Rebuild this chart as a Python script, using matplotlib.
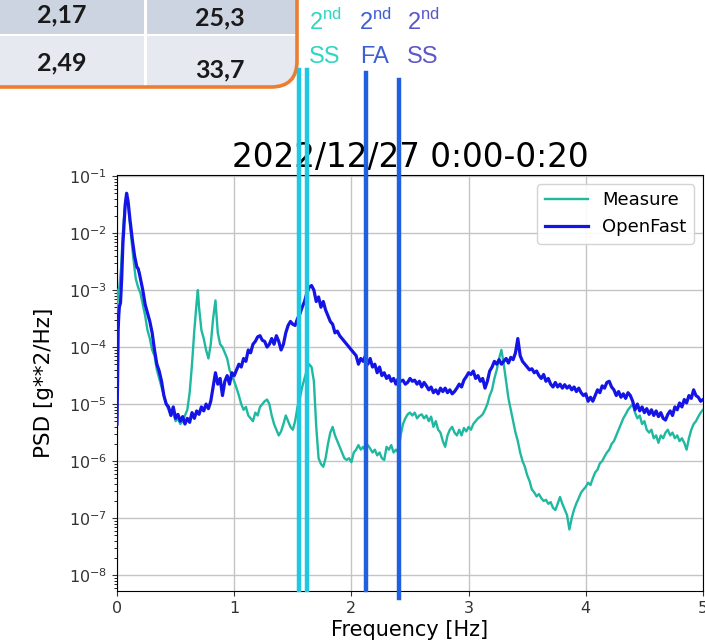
import numpy as np
import matplotlib
matplotlib.use("Agg")
import matplotlib.pyplot as plt
from matplotlib.patches import FancyBboxPatch, Rectangle
from matplotlib.ticker import LogLocator, NullFormatter

# ---------------------------------------------------------------- data
title_text = "2022/12/27 0:00-0:20"

# PSD traces: (frequency [Hz], log10 PSD [g**2/Hz])
measure_points = [
    (0.000, -3.40), (0.010, -3.00), (0.020, -2.95), (0.035, -2.60), (0.050, -2.00),
    (0.065, -1.60), (0.080, -1.35), (0.090, -1.38), (0.100, -1.60), (0.120, -2.05),
    (0.140, -2.45), (0.160, -2.80), (0.180, -2.95), (0.200, -3.05), (0.220, -3.25),
    (0.240, -3.45), (0.260, -3.70), (0.280, -3.85), (0.300, -4.05), (0.320, -4.15),
    (0.340, -4.40), (0.360, -4.55), (0.380, -4.70), (0.400, -4.85), (0.420, -5.00),
    (0.440, -5.10), (0.460, -5.20), (0.480, -5.15), (0.500, -5.30), (0.520, -5.25),
    (0.540, -5.35), (0.560, -5.30), (0.580, -5.20), (0.600, -5.10), (0.620, -4.80),
    (0.640, -4.30), (0.660, -3.70), (0.680, -3.20), (0.690, -3.00), (0.700, -3.30),
    (0.720, -3.70), (0.740, -3.85), (0.760, -4.05), (0.780, -4.20), (0.800, -3.95),
    (0.820, -3.50), (0.840, -3.18), (0.860, -3.75), (0.880, -3.95), (0.900, -4.00),
    (0.920, -4.10), (0.940, -4.20), (0.960, -4.40), (0.980, -4.50), (1.000, -4.60),
    (1.020, -4.72), (1.040, -4.85), (1.060, -5.00), (1.080, -5.10), (1.100, -5.05),
    (1.120, -5.20), (1.140, -5.25), (1.160, -5.30), (1.180, -5.15), (1.200, -5.20),
    (1.220, -5.05), (1.240, -5.00), (1.260, -4.95), (1.280, -4.92), (1.300, -5.00),
    (1.320, -5.20), (1.340, -5.35), (1.360, -5.45), (1.380, -5.55), (1.400, -5.48),
    (1.420, -5.35), (1.440, -5.20), (1.460, -5.30), (1.480, -5.40), (1.500, -5.45),
    (1.520, -5.30), (1.540, -5.05), (1.560, -4.90), (1.580, -4.70), (1.600, -4.55),
    (1.620, -4.40), (1.640, -4.30), (1.660, -4.35), (1.680, -4.60), (1.700, -5.40),
    (1.720, -5.95), (1.740, -6.05), (1.760, -6.10), (1.780, -5.95), (1.800, -5.70),
    (1.820, -5.50), (1.840, -5.40), (1.860, -5.55), (1.880, -5.65), (1.900, -5.75),
    (1.920, -5.85), (1.940, -5.95), (1.960, -5.98), (1.980, -5.95), (2.000, -6.02),
    (2.020, -5.85), (2.040, -5.80), (2.060, -5.72), (2.080, -5.80), (2.100, -5.75),
    (2.120, -5.82), (2.140, -5.72), (2.160, -5.78), (2.180, -5.85), (2.200, -5.80),
    (2.220, -5.90), (2.240, -5.85), (2.260, -5.95), (2.280, -5.98), (2.300, -5.75),
    (2.320, -5.80), (2.340, -5.72), (2.360, -5.85), (2.380, -5.80), (2.400, -5.85),
    (2.420, -5.55), (2.440, -5.35), (2.460, -5.25), (2.480, -5.18), (2.500, -5.15),
    (2.520, -5.20), (2.540, -5.15), (2.560, -5.25), (2.580, -5.20), (2.600, -5.18),
    (2.620, -5.25), (2.640, -5.20), (2.660, -5.30), (2.680, -5.22), (2.700, -5.40),
    (2.720, -5.30), (2.740, -5.45), (2.760, -5.50), (2.780, -5.65), (2.800, -5.75),
    (2.820, -5.55), (2.840, -5.45), (2.860, -5.40), (2.880, -5.50), (2.900, -5.55),
    (2.920, -5.45), (2.940, -5.55), (2.960, -5.42), (2.980, -5.48), (3.000, -5.40),
    (3.020, -5.45), (3.040, -5.35), (3.060, -5.30), (3.080, -5.25), (3.100, -5.22),
    (3.120, -5.18), (3.140, -5.10), (3.160, -5.00), (3.180, -4.85), (3.200, -4.75),
    (3.220, -4.55), (3.240, -4.40), (3.260, -4.20), (3.280, -4.05), (3.300, -4.30),
    (3.320, -4.60), (3.340, -4.90), (3.360, -5.10), (3.380, -5.30), (3.400, -5.50),
    (3.420, -5.65), (3.440, -5.85), (3.460, -6.00), (3.480, -6.10), (3.500, -6.25),
    (3.520, -6.35), (3.540, -6.50), (3.560, -6.55), (3.580, -6.62), (3.600, -6.58),
    (3.620, -6.65), (3.640, -6.70), (3.660, -6.68), (3.680, -6.75), (3.700, -6.72),
    (3.720, -6.82), (3.740, -6.86), (3.760, -6.75), (3.780, -6.63), (3.800, -6.75),
    (3.820, -6.85), (3.840, -6.95), (3.860, -7.20), (3.880, -7.00), (3.900, -6.85),
    (3.920, -6.74), (3.940, -6.65), (3.960, -6.55), (3.980, -6.50), (4.000, -6.45),
    (4.020, -6.38), (4.040, -6.42), (4.060, -6.30), (4.080, -6.20), (4.100, -6.15),
    (4.120, -6.04), (4.140, -6.00), (4.160, -5.92), (4.180, -5.85), (4.200, -5.80),
    (4.220, -5.70), (4.240, -5.65), (4.260, -5.55), (4.280, -5.45), (4.300, -5.35),
    (4.320, -5.25), (4.340, -5.18), (4.360, -5.10), (4.380, -5.05), (4.400, -5.00),
    (4.420, -5.15), (4.440, -5.25), (4.460, -5.20), (4.480, -5.35), (4.500, -5.30),
    (4.520, -5.45), (4.540, -5.50), (4.560, -5.45), (4.580, -5.60), (4.600, -5.55),
    (4.620, -5.68), (4.640, -5.55), (4.660, -5.60), (4.680, -5.50), (4.700, -5.45),
    (4.720, -5.55), (4.740, -5.50), (4.760, -5.60), (4.780, -5.55), (4.800, -5.65),
    (4.820, -5.60), (4.840, -5.68), (4.860, -5.80), (4.880, -5.60), (4.900, -5.45),
    (4.920, -5.35), (4.940, -5.30), (4.960, -5.22), (4.980, -5.15), (5.000, -5.10),
]

openfast_points = [
    (0.000, -5.35), (0.005, -4.60), (0.010, -3.70), (0.015, -3.45), (0.020, -3.30),
    (0.030, -3.22), (0.040, -2.80), (0.050, -2.20), (0.060, -1.85), (0.070, -1.50),
    (0.082, -1.30), (0.095, -1.45), (0.110, -1.75), (0.130, -2.10), (0.150, -2.40),
    (0.170, -2.60), (0.180, -2.62), (0.190, -2.70), (0.200, -2.80), (0.220, -3.00),
    (0.240, -3.25), (0.260, -3.40), (0.280, -3.55), (0.300, -3.75), (0.320, -4.05),
    (0.340, -4.30), (0.360, -4.42), (0.380, -4.60), (0.400, -4.85), (0.420, -5.00),
    (0.440, -5.05), (0.460, -5.20), (0.480, -5.05), (0.500, -5.25), (0.520, -5.18),
    (0.540, -5.30), (0.560, -5.22), (0.580, -5.35), (0.600, -5.25), (0.620, -5.32),
    (0.640, -5.15), (0.660, -5.25), (0.680, -5.12), (0.700, -5.18), (0.720, -5.05),
    (0.740, -5.12), (0.760, -5.00), (0.780, -5.08), (0.800, -4.95), (0.820, -4.70),
    (0.840, -4.45), (0.860, -4.65), (0.880, -4.55), (0.900, -4.85), (0.920, -4.60),
    (0.940, -4.50), (0.960, -4.65), (0.980, -4.45), (1.000, -4.50), (1.020, -4.40),
    (1.040, -4.30), (1.060, -4.35), (1.080, -4.20), (1.100, -4.25), (1.120, -4.05),
    (1.140, -4.10), (1.160, -3.95), (1.180, -3.90), (1.200, -3.82), (1.220, -3.80),
    (1.240, -3.88), (1.260, -3.90), (1.280, -4.00), (1.300, -3.95), (1.320, -3.85),
    (1.340, -3.95), (1.360, -3.80), (1.380, -3.90), (1.400, -4.05), (1.420, -3.95),
    (1.440, -3.75), (1.460, -3.62), (1.480, -3.55), (1.500, -3.60), (1.520, -3.62),
    (1.540, -3.50), (1.560, -3.42), (1.580, -3.30), (1.600, -3.20), (1.620, -3.05),
    (1.640, -2.95), (1.660, -2.92), (1.680, -3.00), (1.700, -3.20), (1.720, -3.12),
    (1.740, -3.30), (1.760, -3.20), (1.780, -3.35), (1.800, -3.45), (1.820, -3.55),
    (1.840, -3.60), (1.860, -3.75), (1.880, -3.72), (1.900, -3.80), (1.920, -3.85),
    (1.940, -3.90), (1.960, -3.95), (1.980, -4.00), (2.000, -4.05), (2.020, -4.10),
    (2.040, -4.15), (2.060, -4.30), (2.080, -4.20), (2.100, -4.25), (2.120, -4.15),
    (2.140, -4.30), (2.160, -4.20), (2.180, -4.35), (2.200, -4.30), (2.220, -4.45),
    (2.240, -4.35), (2.260, -4.50), (2.280, -4.45), (2.300, -4.55), (2.320, -4.50),
    (2.340, -4.60), (2.360, -4.55), (2.380, -4.65), (2.400, -4.55), (2.420, -4.60),
    (2.440, -4.58), (2.460, -4.65), (2.480, -4.62), (2.500, -4.55), (2.520, -4.60),
    (2.540, -4.58), (2.560, -4.65), (2.580, -4.60), (2.600, -4.70), (2.620, -4.62),
    (2.640, -4.68), (2.660, -4.75), (2.680, -4.70), (2.700, -4.80), (2.720, -4.75),
    (2.740, -4.82), (2.760, -4.72), (2.780, -4.78), (2.800, -4.72), (2.820, -4.80),
    (2.840, -4.75), (2.860, -4.82), (2.880, -4.78), (2.900, -4.72), (2.920, -4.65),
    (2.940, -4.70), (2.960, -4.58), (2.980, -4.52), (3.000, -4.45), (3.020, -4.48),
    (3.040, -4.42), (3.060, -4.55), (3.080, -4.50), (3.100, -4.60), (3.120, -4.55),
    (3.140, -4.72), (3.160, -4.60), (3.180, -4.42), (3.200, -4.35), (3.220, -4.25),
    (3.240, -4.30), (3.260, -4.22), (3.280, -4.30), (3.300, -4.25), (3.320, -4.20),
    (3.340, -4.28), (3.360, -4.18), (3.380, -4.22), (3.400, -4.10), (3.420, -3.85),
    (3.440, -4.15), (3.460, -4.25), (3.480, -4.30), (3.500, -4.35), (3.520, -4.40),
    (3.540, -4.38), (3.560, -4.45), (3.580, -4.42), (3.600, -4.50), (3.620, -4.55),
    (3.640, -4.48), (3.660, -4.60), (3.680, -4.55), (3.700, -4.65), (3.720, -4.70),
    (3.740, -4.62), (3.760, -4.70), (3.780, -4.65), (3.800, -4.72), (3.820, -4.66),
    (3.840, -4.72), (3.860, -4.68), (3.880, -4.75), (3.900, -4.70), (3.920, -4.78),
    (3.940, -4.72), (3.960, -4.80), (3.980, -4.85), (4.000, -4.82), (4.020, -4.95),
    (4.040, -4.88), (4.060, -4.95), (4.080, -4.85), (4.100, -4.75), (4.120, -4.80),
    (4.140, -4.68), (4.160, -4.72), (4.180, -4.62), (4.200, -4.60), (4.220, -4.70),
    (4.240, -4.75), (4.260, -4.85), (4.280, -4.78), (4.300, -4.88), (4.320, -4.82),
    (4.340, -4.90), (4.360, -4.80), (4.380, -4.85), (4.400, -4.95), (4.420, -5.10),
    (4.440, -5.00), (4.460, -5.12), (4.480, -5.05), (4.500, -5.15), (4.520, -5.08),
    (4.540, -5.18), (4.560, -5.10), (4.580, -5.20), (4.600, -5.12), (4.620, -5.22),
    (4.640, -5.15), (4.660, -5.25), (4.680, -5.28), (4.700, -5.18), (4.720, -5.12),
    (4.740, -5.20), (4.760, -5.05), (4.780, -5.10), (4.800, -4.98), (4.820, -5.05),
    (4.840, -4.92), (4.860, -4.98), (4.880, -4.85), (4.900, -4.90), (4.920, -4.75),
    (4.940, -4.85), (4.960, -4.88), (4.980, -4.95), (5.000, -4.92),
]

# second-order mode frequencies marked on the spectrum [Hz]
mode_freqs = [1.549, 1.617, 2.122, 2.410]
mode_colors = ["#1cc8e2", "#1cc8e2", "#1f5fe0", "#1f5fe0"]
mode_tops = [1.252, 1.252, 1.245, 1.228]
mode_bottoms = [0.002, 0.002, 0.002, -0.017]

# mode captions above the plot
caption_lines = [("SS", "#2fd6c2"), ("FA", "#3d5fd6"), ("SS", "#5b56c9")]

# frequency / damping table
table_rows = [["2,17", "25,3"], ["2,49", "33,7"]]

# ---------------------------------------------------------------- figure
W, H = 705, 643
fig = plt.figure(figsize=(W / 100, H / 100), dpi=100)
fig.patch.set_facecolor("white")

# pixel-space overlay for the slide decorations
deco = fig.add_axes([0, 0, 1, 1], zorder=0)
deco.set_xlim(0, W)
deco.set_ylim(H, 0)
deco.axis("off")

# table cells clipped to a rounded frame
frame = FancyBboxPatch((-60, -60), 357, 147,
                       boxstyle="round,pad=0,rounding_size=26",
                       facecolor="none", edgecolor="#ed7d31", lw=2.6, zorder=3)
deco.add_patch(frame)
row_bounds = [(-60, 34), (36, 90)]
row_colors = ["#cdd4e1", "#e6e9f0"]
col_bounds = [(-60, 144), (147, 300)]
for (y0, y1), rc in zip(row_bounds, row_colors):
    for (x0, x1) in col_bounds:
        r = Rectangle((x0, y0), x1 - x0, y1 - y0, facecolor=rc, edgecolor="none", zorder=1)
        deco.add_patch(r)
        r.set_clip_path(frame)
text_pos = [[(62, 15), (220, 18)], [(62, 63), (220, 70)]]
for row, prow in zip(table_rows, text_pos):
    for val, (tx, ty) in zip(row, prow):
        deco.text(tx, ty, val, ha="center", va="center", fontsize=18,
                  fontweight="bold", family="Lato", color="#1a1a1a", zorder=4)

# ---------------------------------------------------------------- spectrum axes
ax = fig.add_axes([117 / W, 1 - 591 / H, (703 - 117) / W, 416 / H], zorder=2)

mf, mv = zip(*measure_points)
of, ov = zip(*openfast_points)
ax.semilogy(mf, 10 ** np.array(mv), color="#1fb8a0", lw=1.7, label="Measure", zorder=3)
ax.semilogy(of, 10 ** np.array(ov), color="#1414e6", lw=2.3, label="OpenFast", zorder=4)

ax.set_xlim(0, 5)
ax.set_ylim(10 ** -8.28, 10 ** -0.98)
ax.set_xticks([0, 1, 2, 3, 4, 5])
ax.yaxis.set_major_locator(LogLocator(base=10, numticks=12))
ax.yaxis.set_minor_locator(LogLocator(base=10, subs=np.arange(2, 10), numticks=12))
ax.yaxis.set_minor_formatter(NullFormatter())
ax.grid(True, which="major", color="#c4c4c4", lw=1.0)
ax.tick_params(labelsize=11.5, colors="#333333")
ax.set_title(title_text, fontsize=23.5, pad=6)
ax.set_xlabel("Frequency [Hz]", fontsize=15, labelpad=3)
ax.set_ylabel("PSD [g**2/Hz]", fontsize=15.5)
ax.yaxis.set_label_coords(-0.108, 0.5)
ax.legend(loc="upper right", fontsize=13, handlelength=2.4,
          edgecolor="#d0d0d0", framealpha=0.9)

# mode markers, running up into the caption area
for f, c, top, bot in zip(mode_freqs, mode_colors, mode_tops, mode_bottoms):
    ax.axvline(f, ymin=bot, ymax=top, color=c, lw=3.2, clip_on=False, zorder=6)

# captions
cap_x = [325, 375, 423]
for (word, col), cx in zip(caption_lines, cap_x):
    deco.text(cx, 30, r"2$^{\mathregular{nd}}$", ha="center", va="baseline",
              fontsize=17, family="Liberation Sans", color=col)
    deco.text(cx, 63, word, ha="center", va="baseline",
              fontsize=17, family="Liberation Sans", color=col)

fig.savefig("out.png", dpi=100)
